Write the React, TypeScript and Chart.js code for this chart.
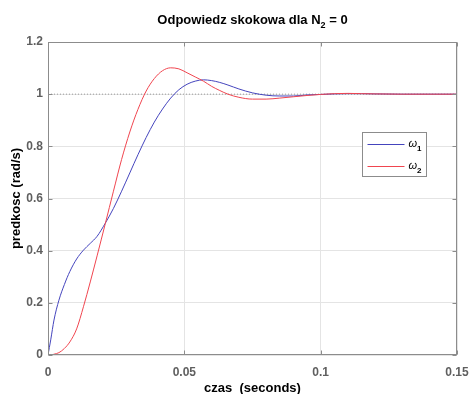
import React, { useEffect, useRef } from "react";
import { Chart, registerables } from "chart.js";

Chart.register(...registerables);

// ---- data ----
const time = [
  0, 0.001, 0.0022, 0.004, 0.006, 0.008, 0.0105, 0.013, 0.0155, 0.018, 0.021,
  0.024, 0.027, 0.03, 0.033, 0.036, 0.039, 0.042, 0.045, 0.048, 0.051, 0.054,
  0.057, 0.06, 0.063, 0.066, 0.07, 0.075, 0.08, 0.085, 0.09, 0.095, 0.1,
  0.105, 0.11, 0.115, 0.12, 0.13, 0.14, 0.15,
];
const omega1 = [
  0, 0.058, 0.134, 0.21, 0.27, 0.32, 0.368, 0.402, 0.428, 0.455, 0.505, 0.562,
  0.628, 0.698, 0.768, 0.834, 0.893, 0.943, 0.985, 1.017, 1.038, 1.05, 1.055,
  1.052, 1.045, 1.035, 1.02, 1.005, 0.996, 0.993, 0.993, 0.997, 0.999, 1.001,
  1.002, 1.002, 1.001, 1.0, 1.0, 1.0,
];
const omega2 = [
  0, 0.0, 0.003, 0.009, 0.025, 0.05, 0.1, 0.185, 0.28, 0.38, 0.503, 0.628,
  0.75, 0.855, 0.942, 1.012, 1.06, 1.09, 1.101, 1.097, 1.082, 1.066, 1.05,
  1.03, 1.014, 1.0, 0.988, 0.981, 0.981, 0.985, 0.99, 0.995, 0.999, 1.002,
  1.003, 1.002, 1.001, 1.0, 1.0, 1.0,
];
const refTime = [0, 0.15];
const refValue = [1, 1];
const xTicks = [0, 0.05, 0.1, 0.15];
const xTickLabels = ["0", "0.05", "0.1", "0.15"];
const yTicks = [0, 0.2, 0.4, 0.6, 0.8, 1, 1.2];
const yTickLabels = ["0", "0.2", "0.4", "0.6", "0.8", "1", "1.2"];
const seriesSymbol = "\u03c9";
const seriesSubs = ["1", "2"];
const titleMain = "Odpowiedz skokowa dla ";
const titleVar = "N";
const titleSub = "2";
const titleTail = " = 0";
const xTitle = "czas  (seconds)";
const yTitle = "predkosc (rad/s)";

const BLUE = "#4444bd";
const RED = "#f0454f";
const FONT = '"Liberation Sans", Arial, Helvetica, sans-serif';

const framePlugin = {
  id: "frame",
  afterDatasetsDraw(chart: any) {
    const { ctx, chartArea } = chart;
    const l = Math.round(chartArea.left) + 0.5;
    const t = Math.round(chartArea.top) + 0.5;
    const r = Math.round(chartArea.right) - 0.5;
    const b = Math.round(chartArea.bottom) - 0.5;
    ctx.save();
    ctx.strokeStyle = "#8c8c8c";
    ctx.lineWidth = 1;
    ctx.strokeRect(l, t, r - l, b - t);
    const xs = chart.scales.x;
    const ys = chart.scales.y;
    ctx.beginPath();
    xTicks.forEach((v) => {
      const px = Math.round(xs.getPixelForValue(v)) + 0.5;
      ctx.moveTo(px, b);
      ctx.lineTo(px, b - 4);
      ctx.moveTo(px, t);
      ctx.lineTo(px, t + 4);
    });
    yTicks.forEach((v) => {
      const py = Math.round(ys.getPixelForValue(v)) + 0.5;
      ctx.moveTo(l, py);
      ctx.lineTo(l + 4, py);
      ctx.moveTo(r, py);
      ctx.lineTo(r - 4, py);
    });
    ctx.stroke();
    ctx.restore();
  },
};

const titlePlugin = {
  id: "subTitle",
  afterDraw(chart: any) {
    const { ctx, chartArea } = chart;
    ctx.save();
    const big = `bold 13px ${FONT}`;
    const small = `bold 9px ${FONT}`;
    ctx.font = big;
    const w1 = ctx.measureText(titleMain).width;
    const wN = ctx.measureText(titleVar).width;
    const w3 = ctx.measureText(titleTail).width;
    ctx.font = small;
    const w2 = ctx.measureText(titleSub).width;
    const total = w1 + wN + w2 + w3;
    let x = (chartArea.left + chartArea.right) / 2 - total / 2;
    const base = 23.5;
    ctx.fillStyle = "#000";
    ctx.textBaseline = "alphabetic";
    ctx.textAlign = "left";
    ctx.font = big;
    ctx.fillText(titleMain, x, base);
    x += w1;
    ctx.fillText(titleVar, x, base);
    x += wN;
    ctx.font = small;
    ctx.fillText(titleSub, x, base + 4);
    x += w2;
    ctx.font = big;
    ctx.fillText(titleTail, x, base);
    ctx.restore();
  },
};

const legendPlugin = {
  id: "subLegend",
  afterDraw(chart: any) {
    const { ctx, chartArea } = chart;
    const bx = Math.round(chartArea.right) - 94.5;
    const by = Math.round(chartArea.top) + 90.5;
    const bw = 64;
    const bh = 44;
    ctx.save();
    ctx.fillStyle = "#ffffff";
    ctx.fillRect(bx, by, bw, bh);
    ctx.strokeStyle = "#8c8c8c";
    ctx.lineWidth = 1;
    ctx.strokeRect(bx, by, bw, bh);
    const colors = [BLUE, RED];
    seriesSubs.forEach((s, i) => {
      const y = by + 11 + i * 22;
      ctx.strokeStyle = colors[i];
      ctx.beginPath();
      ctx.moveTo(bx + 5, Math.round(y) + 0.5);
      ctx.lineTo(bx + 42, Math.round(y) + 0.5);
      ctx.stroke();
      ctx.fillStyle = "#000";
      ctx.textBaseline = "alphabetic";
      ctx.font = `italic 11px ${FONT}`;
      ctx.fillText(seriesSymbol, bx + 46, y + 3);
      const w = ctx.measureText(seriesSymbol).width;
      ctx.font = `bold 8px ${FONT}`;
      ctx.fillText(s, bx + 46 + w, y + 7);
    });
    ctx.restore();
  },
};

export default function App() {
  const ref = useRef<HTMLCanvasElement | null>(null);
  useEffect(() => {
    document.body.style.margin = "0";
    const canvas = ref.current;
    if (!canvas) return;
    const toPts = (xs: number[], ys: number[]) => xs.map((x, i) => ({ x, y: ys[i] }));
    const chart = new Chart(canvas, {
      type: "line",
      data: {
        datasets: [
          {
            label: "ref",
            data: toPts(refTime, refValue),
            borderColor: "#9a9a9a",
            borderWidth: 1,
            borderDash: [1, 2],
            pointRadius: 0,
            order: 3,
          },
          {
            label: "w1",
            data: toPts(time, omega1),
            borderColor: BLUE,
            borderWidth: 1,
            pointRadius: 0,
            cubicInterpolationMode: "monotone",
            order: 2,
          },
          {
            label: "w2",
            data: toPts(time, omega2),
            borderColor: RED,
            borderWidth: 1,
            pointRadius: 0,
            cubicInterpolationMode: "monotone",
            order: 1,
          },
        ],
      },
      options: {
        animation: false,
        responsive: false,
        devicePixelRatio: 1,
        layout: { padding: { top: 42, right: 14, left: 0, bottom: 0 } },
        plugins: { legend: { display: false }, tooltip: { enabled: false }, title: { display: false } },
        scales: {
          x: {
            type: "linear",
            min: 0,
            max: 0.15,
            afterBuildTicks: (s: any) => {
              s.ticks = xTicks.map((v) => ({ value: v }));
            },
            afterFit: (s: any) => {
              s.height = 39;
              s.paddingLeft = 0;
              s.paddingRight = 0;
            },
            ticks: {
              padding: 10,
              color: "#5f5f5f",
              font: { family: FONT, size: 12, weight: "bold" },
              maxRotation: 0,
              callback: (v: any) => xTickLabels[xTicks.indexOf(Number(v))] ?? "",
            },
            grid: { color: "#e4e4e4", drawTicks: false, lineWidth: 1 },
            border: { display: false },
            title: {
              display: true,
              text: xTitle,
              color: "#000",
              font: { family: FONT, size: 13, weight: "bold" },
              padding: { top: 0, bottom: -2 },
            },
          },
          y: {
            type: "linear",
            min: 0,
            max: 1.2,
            afterBuildTicks: (s: any) => {
              s.ticks = yTicks.map((v) => ({ value: v }));
            },
            afterFit: (s: any) => {
              s.width = 48;
              s.paddingTop = 0;
              s.paddingBottom = 0;
            },
            ticks: {
              padding: 5,
              color: "#5f5f5f",
              font: { family: FONT, size: 12, weight: "bold" },
              callback: (v: any) => yTickLabels[yTicks.indexOf(Number(v))] ?? "",
            },
            grid: { color: "#e4e4e4", drawTicks: false, lineWidth: 1 },
            border: { display: false },
            title: {
              display: true,
              text: yTitle,
              color: "#000",
              font: { family: FONT, size: 13, weight: "bold" },
              padding: { top: 9, bottom: 0 },
            },
          },
        },
      },
      plugins: [framePlugin, titlePlugin, legendPlugin],
    } as any);
    return () => chart.destroy();
  }, []);
  return <canvas ref={ref} width={471} height={394} style={{ display: "block", width: 471, height: 394 }} />;
}
